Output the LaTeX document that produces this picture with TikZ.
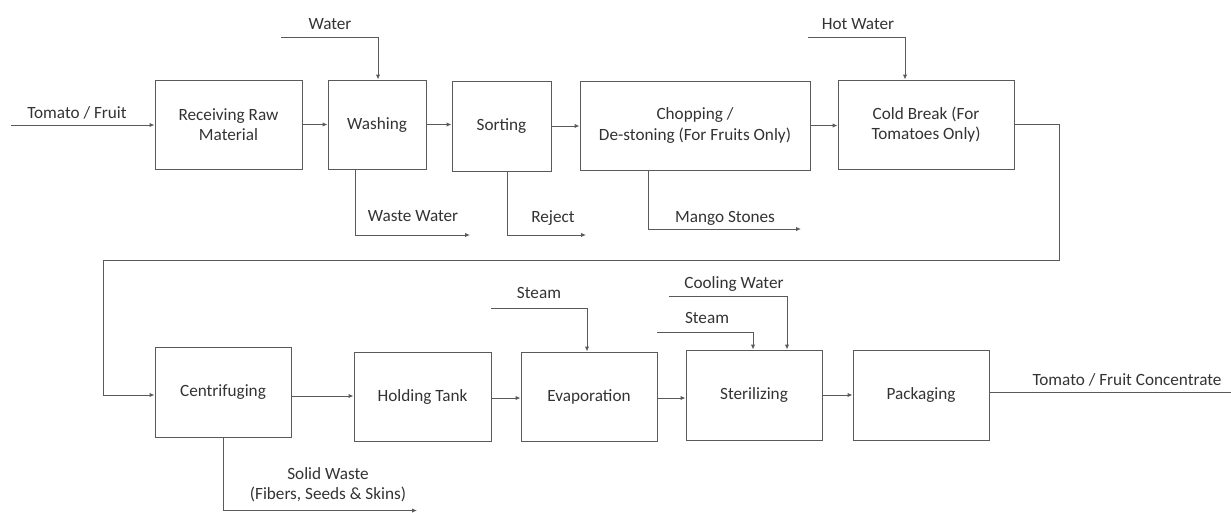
\documentclass[tikz,border=0pt]{standalone}
\usepackage{fontspec}
\setmainfont{Carlito}
\usetikzlibrary{arrows.meta,calc}
\definecolor{inkline}{HTML}{5A5A5A}
\definecolor{inktext}{HTML}{333333}
\def\u{0.75pt}
\tikzset{
  proc/.style={draw=inkline, line width=1*\u, align=center, text=inktext,
    inner sep=0pt, font=\fontsize{12.9}{15.2}\selectfont},
  lbl/.style={text=inktext, align=center, inner sep=0pt,
    font=\fontsize{12.9}{15.2}\selectfont},
  flow/.style={draw=inkline, line width=1*\u,
    -{Latex[length=5*\u, width=4.5*\u]}},
  plain/.style={draw=inkline, line width=1*\u}
}
\begin{document}
\begin{tikzpicture}[x=\u, y=-\u]
\useasboundingbox (0,0) rectangle (1231,512);

% process boxes, upper row
\node[proc, minimum width=147*\u, minimum height=89*\u] (recv) at (228.5,124.5) {Receiving Raw\\Material};
\node[proc, minimum width=98*\u,  minimum height=89*\u] (wash) at (377,124.5) {Washing};
\node[proc, minimum width=99*\u,  minimum height=90*\u] (sort) at (501.5,126) {Sorting};
\node[proc, minimum width=230*\u, minimum height=89*\u] (chop) at (695,125.5) {Chopping /\\De-stoning (For Fruits Only)};
\node[proc, minimum width=176*\u, minimum height=89*\u] (cold) at (926,124.5) {Cold Break (For\\Tomatoes Only)};

% process boxes, lower row
\node[proc, minimum width=136*\u, minimum height=90*\u] (cent) at (223,392) {Centrifuging};
\node[proc, minimum width=137*\u, minimum height=89*\u] (hold) at (422.5,396.5) {Holding Tank};
\node[proc, minimum width=136*\u, minimum height=89*\u] (evap) at (589,396.5) {Evaporation};
\node[proc, minimum width=136*\u, minimum height=90*\u] (ster) at (754,395) {Sterilizing};
\node[proc, minimum width=136*\u, minimum height=90*\u] (pack) at (921,395) {Packaging};

% free ends of feed and discharge lines
\coordinate (feed)  at (11,125);
\coordinate (water) at (281,37);
\coordinate (hotw)  at (808,37);
\coordinate (wwend) at (470,235);
\coordinate (rjend) at (586,235);
\coordinate (mgend) at (801,229);
\coordinate (turnR) at (1059,260);
\coordinate (turnL) at (103,260);
\coordinate (steamA) at (491,308);
\coordinate (steamB) at (657,332);
\coordinate (cool)  at (669,296);
\coordinate (prod)  at (1231,392);
\coordinate (swend) at (417,510.5);

% main line
\draw[flow] (feed) -- (feed -| recv.west);
\draw[flow] (recv.east) -- (recv.east -| wash.west);
\draw[flow] (wash.east) -- (wash.east -| sort.west);
\draw[flow] (sort.east) -- (sort.east -| chop.west);
\draw[flow] (chop.east) -- (chop.east -| cold.west);
\draw[flow] (cold.east) -| (turnR) -- (turnL) |- ([yshift=-3*\u]cent.west);
\draw[flow] ([yshift=-4*\u]cent.east) -- ([yshift=-4*\u]cent.east -| hold.west);
\draw[flow] ([yshift=-1.5*\u]hold.east) -- ([yshift=-1.5*\u]hold.east -| evap.west);
\draw[flow] ([yshift=-1.5*\u]evap.east) -- ([yshift=-1.5*\u]evap.east -| ster.west);
\draw[flow] (ster.east) -- (ster.east -| pack.west);
\draw[plain] ([yshift=3*\u]pack.east) -- ([yshift=3*\u]pack.east -| prod);

% utility feeds
\draw[flow] (water) -| ([xshift=1*\u]wash.north);
\draw[flow] (hotw) -| ([xshift=-21*\u]cold.north);
\draw[flow] (steamA) -| ([xshift=-2*\u]evap.north);
\draw[flow] (steamB) -| ([xshift=-1*\u]ster.north);
\draw[flow] (cool) -| ([xshift=33*\u]ster.north);

% discharges
\draw[flow] ([xshift=-22*\u]wash.south) |- (wwend);
\draw[flow] ([xshift=5.5*\u]sort.south) |- (rjend);
\draw[flow] ([xshift=-47*\u]chop.south) |- (mgend);
\draw[flow] (cent.south) |- (swend);

% stream labels
\node[lbl] (lfeed) at (77,113) {Tomato / Fruit};
\node[lbl] (lwater) at (330,24) {Water};
\node[lbl] (lww) at (413,216) {Waste Water};
\node[lbl] (lrj) at (553,218) {Reject};
\node[lbl] (lmg) at (725,218) {Mango Stones};
\node[lbl] (lhw) at (858,24) {Hot Water};
\node[lbl] (lsa) at (539,293) {Steam};
\node[lbl] (lsb) at (707,318) {Steam};
\node[lbl] (lcw) at (734,284) {Cooling Water};
\node[lbl] (lprod) at (1127,380) {Tomato / Fruit Concentrate};
\node[lbl] (lsw) at (328,485) {Solid Waste\\(Fibers, Seeds \& Skins)};
\end{tikzpicture}
\end{document}
